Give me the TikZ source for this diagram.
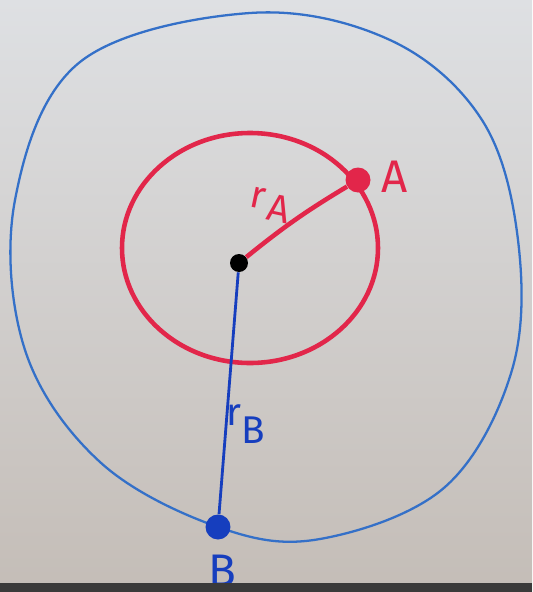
\documentclass[tikz,border=0pt]{standalone}
\usepackage{fontspec}
\setsansfont{Fira Sans}
\definecolor{inkred}{RGB}{226,38,74}
\definecolor{inkblue}{RGB}{52,112,200}
\definecolor{inkdeep}{RGB}{22,62,190}
\definecolor{boardtop}{RGB}{222,224,227}
\definecolor{boardbot}{RGB}{196,189,183}
\definecolor{stripgray}{RGB}{58,58,58}
\begin{document}
\begin{tikzpicture}[x=0.02cm,y=-0.02cm,
  redink/.style={draw=inkred,line width=2.6pt},
  blueink/.style={draw=inkblue,line width=1.3pt},
  inkdot/.style={circle,inner sep=0pt},
  lbl/.style={font=\sffamily\fontsize{26}{26}\selectfont}]
\useasboundingbox (0,0) rectangle (532,592);
\fill[top color=boardtop,bottom color=boardbot] (0,0) rectangle (532,592);
% outer ring
\draw[blueink] plot[smooth cycle,tension=0.6] coordinates {
  (250,13) (390,40) (482,120) (518,240) (512,370) (445,487)
  (320,539) (218,527) (100,462) (25,350) (15,200) (80,62)};
% inner ring
\draw[redink] (250,248) ellipse [x radius=128,y radius=115];
\node[inkdot,fill=black,minimum size=0.36cm] (O) at (239,263) {};
\node[inkdot,fill=inkred,minimum size=0.5cm] (A) at (358,180) {};
\node[inkdot,fill=inkdeep,minimum size=0.5cm] (B) at (218,527) {};
\draw[redink] (O) to[bend left=4] (A);
\draw[draw=inkdeep,line width=1.6pt] (O) -- (B);
\node[lbl,text=inkred] (Alab) at (395,177) {A};
\node[lbl,text=inkred,rotate=-12,font=\sffamily\fontsize{22}{22}\selectfont] (rA) at (270,205) {r\kern2pt\raisebox{-0.45ex}{A}};
\node[lbl,text=inkdeep,font=\sffamily\fontsize{22}{22}\selectfont] (rB) at (246,424) {r\raisebox{-0.9ex}{B}};
\node[lbl,text=inkdeep] (Blab) at (222,571) {B};
\fill[stripgray] (0,583) rectangle (532,592);
\end{tikzpicture}
\end{document}
